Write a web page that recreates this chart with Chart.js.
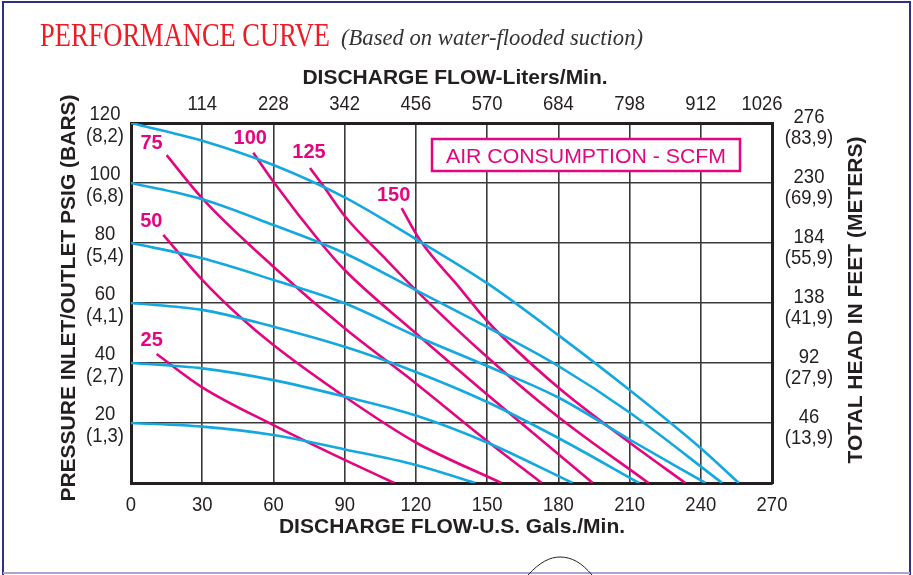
<!DOCTYPE html>
<html>
<head>
<meta charset="utf-8">
<script src="https://cdn.jsdelivr.net/npm/chart.js@4/dist/chart.umd.min.js"></script>
<style>
  body { margin: 0; background: #fff; }
  #wrap { width: 913px; height: 575px; }
</style>
</head>
<body>
<div id="wrap"><canvas id="grafico" width="913" height="575"></canvas></div>
<script>
// ejes
const flowGpmTicks = [0, 30, 60, 90, 120, 150, 180, 210, 240, 270];
const flowLpmTicks = ["", "114", "228", "342", "456", "570", "684", "798", "912", "1026"];
const psiTicks = [0, 20, 40, 60, 80, 100, 120];
const barTicks = ["", "(1,3)", "(2,7)", "(4,1)", "(5,4)", "(6,8)", "(8,2)"];
const feetTicks = ["", "46", "92", "138", "184", "230", "276"];
const meterTicks = ["", "(13,9)", "(27,9)", "(41,9)", "(55,9)", "(69,9)", "(83,9)"];

// curvas de presion (azul): caudal gpm -> psi
const p20Gpm = [0, 30, 60, 90, 120, 145];
const p20Psi = [20, 18.8, 16, 11.2, 6, 0];
const p40Gpm = [0, 30, 60, 90, 120, 150, 186];
const p40Psi = [40, 38.2, 34.3, 28.8, 22.5, 13.5, 0];
const p60Gpm = [0, 30, 60, 90, 120, 150, 180, 214];
const p60Psi = [60, 57.7, 52.1, 45.4, 37, 27, 15, 0];
const p80Gpm = [0, 30, 60, 90, 120, 150, 180, 210, 242];
const p80Psi = [80, 74.9, 67.7, 59.9, 49, 39, 28.5, 14.5, 0];
const p100Gpm = [0, 30, 60, 90, 120, 150, 180, 210, 249];
const p100Psi = [100, 94.6, 86, 76.6, 64.3, 52, 39, 23.5, 0];
const p120Gpm = [0, 30, 60, 90, 120, 150, 180, 210, 240, 256];
const p120Psi = [120, 114.1, 106, 95.2, 81.3, 66.6, 49.3, 31, 11.6, 0];

// consumo de aire (magenta): SCFM
const scfmNames = ["25", "50", "75", "100", "125", "150"];
const s25Gpm = [10.8, 30, 60, 90, 111];
const s25Psi = [43, 31.9, 19.3, 7.7, 0];
const s50Gpm = [13.6, 30, 45.9, 60, 90, 120, 156];
const s50Psi = [82.7, 67.7, 55.4, 46, 28.8, 13.5, 0];
const s75Gpm = [15, 30, 60, 90, 120, 150, 173];
const s75Psi = [109.3, 94.9, 72.1, 51.6, 33.2, 14, 0];
const s100Gpm = [51.5, 60, 80, 90, 120, 150, 194.5];
const s100Psi = [110.1, 100.4, 80, 71, 49.9, 29.5, 0];
const s125Gpm = [75.4, 80.3, 90, 107.7, 120, 150, 180, 218];
const s125Psi = [105, 99.8, 89, 74.3, 64.3, 42, 22, 0];
const s150Gpm = [114, 121.7, 138.6, 150, 180, 210, 233.5];
const s150Psi = [91.6, 81, 64.9, 54, 31.8, 13.5, 0];

const AZUL = "#13a8e0";
const MAGENTA = "#e5057f";
const NEGRO = "#231f20";

function puntos(xs, ys) {
  return xs.map((x, i) => ({ x: x, y: ys[i] }));
}

const curvasPresion = [[p20Gpm, p20Psi], [p40Gpm, p40Psi], [p60Gpm, p60Psi],
  [p80Gpm, p80Psi], [p100Gpm, p100Psi], [p120Gpm, p120Psi]];
const curvasAire = [[s25Gpm, s25Psi], [s50Gpm, s50Psi], [s75Gpm, s75Psi],
  [s100Gpm, s100Psi], [s125Gpm, s125Psi], [s150Gpm, s150Psi]];

const datasets = [];
curvasPresion.forEach((c, i) => datasets.push({
  label: "psi " + psiTicks[i + 1],
  data: puntos(c[0], c[1]),
  borderColor: AZUL, borderWidth: 2.6, pointRadius: 0,
  cubicInterpolationMode: "monotone", fill: false
}));
curvasAire.forEach((c, i) => datasets.push({
  label: scfmNames[i] + " SCFM",
  data: puntos(c[0], c[1]),
  borderColor: MAGENTA, borderWidth: 2.6, pointRadius: 0,
  cubicInterpolationMode: "monotone", fill: false
}));

// texto ajustado a un ancho
function textoAncho(ctx, txt, x, y, ancho, font, color, align) {
  ctx.save();
  ctx.font = font;
  ctx.fillStyle = color;
  ctx.textBaseline = "alphabetic";
  ctx.textAlign = align || "left";
  const w = ctx.measureText(txt).width;
  ctx.translate(x, y);
  ctx.scale(ancho / w, 1);
  ctx.fillText(txt, 0, 0);
  ctx.restore();
}

// numeros de los ejes, letra angosta
function textoTick(ctx, txt, cx, cy) {
  ctx.save();
  ctx.translate(cx, cy);
  ctx.scale(0.88, 1);
  ctx.fillText(txt, 0, 0);
  ctx.restore();
}

const decoracion = {
  id: "decoracion",
  afterDraw(chart) {
    const ctx = chart.ctx;
    const xs = chart.scales.x, ys = chart.scales.y;
    const area = chart.chartArea;

    // titulo
    textoAncho(ctx, "PERFORMANCE CURVE", 40, 46, 290, "33px 'Liberation Serif', serif", "#ed1c24");
    textoAncho(ctx, "(Based on water-flooded suction)", 341, 45, 302, "italic 24px 'Liberation Serif', serif", "#333");

    // etiquetas de los ejes
    ctx.save();
    ctx.fillStyle = NEGRO;
    ctx.font = "21px 'Liberation Sans', Arial, sans-serif";
    ctx.textAlign = "center";
    ctx.textBaseline = "middle";
    flowGpmTicks.forEach((v, i) => {
      const px = xs.getPixelForValue(v);
      textoTick(ctx, String(v), px, area.bottom + 22);
      if (flowLpmTicks[i]) {
        const corr = i === flowLpmTicks.length - 1 ? -10 : 0;
        textoTick(ctx, flowLpmTicks[i], px + corr, area.top - 19);
      }
    });
    psiTicks.forEach((v, i) => {
      if (!v) return;
      const py = ys.getPixelForValue(v);
      textoTick(ctx, String(v), area.left - 26, py - 9);
      textoTick(ctx, barTicks[i], area.left - 26, py + 13);
      textoTick(ctx, feetTicks[i], area.right + 37, py - 6);
      textoTick(ctx, meterTicks[i], area.right + 37, py + 15);
    });
    ctx.restore();

    // titulos de ejes
    ctx.save();
    ctx.fillStyle = NEGRO;
    ctx.font = "bold 21px 'Liberation Sans', Arial, sans-serif";
    ctx.textAlign = "center";
    ctx.textBaseline = "alphabetic";
    ctx.fillText("DISCHARGE FLOW-Liters/Min.", 455, 84);
    ctx.fillText("DISCHARGE FLOW-U.S. Gals./Min.", 452, 533);
    ctx.save();
    ctx.translate(75, 298);
    ctx.rotate(-Math.PI / 2);
    ctx.fillText("PRESSURE INLET/OUTLET PSIG (BARS)", 0, 0);
    ctx.restore();
    ctx.save();
    ctx.translate(862, 300);
    ctx.rotate(-Math.PI / 2);
    ctx.fillText("TOTAL HEAD IN FEET (METERS)", 0, 0);
    ctx.restore();
    ctx.restore();

    // etiquetas SCFM al inicio de cada curva
    const desp = [[-5, -14], [-12, -13], [-15, -12], [-3, -14], [-1, -16], [-8, -13]];
    ctx.save();
    ctx.fillStyle = MAGENTA;
    ctx.font = "bold 20px 'Liberation Sans', Arial, sans-serif";
    ctx.textAlign = "center";
    ctx.textBaseline = "middle";
    curvasAire.forEach((c, i) => {
      const px = xs.getPixelForValue(c[0][0]) + desp[i][0];
      const py = ys.getPixelForValue(c[1][0]) + desp[i][1];
      ctx.fillText(scfmNames[i], px, py);
    });
    ctx.restore();

    // recuadro leyenda
    ctx.save();
    ctx.strokeStyle = MAGENTA;
    ctx.lineWidth = 2.5;
    ctx.fillStyle = "#fff";
    ctx.fillRect(432, 139, 308, 32);
    ctx.strokeRect(432, 139, 308, 32);
    ctx.restore();
    textoAncho(ctx, "AIR CONSUMPTION - SCFM", 586, 163, 280, "21px 'Liberation Sans', Arial, sans-serif", MAGENTA, "center");

    // marco de la pagina
    ctx.save();
    ctx.strokeStyle = "#2e2f86";
    ctx.lineWidth = 2;
    ctx.beginPath();
    ctx.moveTo(3, 575);
    ctx.lineTo(3, 2);
    ctx.lineTo(910, 2);
    ctx.lineTo(910, 575);
    ctx.stroke();
    ctx.strokeStyle = "#a9a7d2";
    ctx.beginPath();
    ctx.moveTo(3, 573);
    ctx.lineTo(910, 573);
    ctx.stroke();
    ctx.strokeStyle = "#222";
    ctx.lineWidth = 1;
    ctx.beginPath();
    ctx.moveTo(528, 575);
    ctx.bezierCurveTo(540, 562, 550, 557, 560, 557);
    ctx.bezierCurveTo(572, 557, 582, 563, 592, 575);
    ctx.stroke();
    ctx.restore();
  }
};

const bordeEje = { display: true, width: 3, color: NEGRO };

new Chart(document.getElementById("grafico").getContext("2d"), {
  type: "line",
  data: { datasets: datasets },
  options: {
    responsive: false,
    animation: false,
    layout: { padding: 0 },
    plugins: { legend: { display: false }, tooltip: { enabled: false } },
    scales: {
      x: {
        type: "linear", position: "bottom", min: 0, max: 270,
        afterFit: s => { s.height = 92; },
        afterBuildTicks: s => { s.ticks = flowGpmTicks.map(v => ({ value: v })); },
        ticks: { display: false },
        grid: { color: "#3a3a3a", lineWidth: 1.6, drawTicks: false },
        border: bordeEje
      },
      x2: {
        type: "linear", position: "top", min: 0, max: 270,
        afterFit: s => { s.height = 123; },
        ticks: { display: false },
        grid: { display: false, drawTicks: false },
        border: bordeEje
      },
      y: {
        type: "linear", position: "left", min: 0, max: 120,
        afterFit: s => { s.width = 131; },
        afterBuildTicks: s => { s.ticks = psiTicks.map(v => ({ value: v })); },
        ticks: { display: false },
        grid: { color: "#3a3a3a", lineWidth: 1.6, drawTicks: false },
        border: bordeEje
      },
      y2: {
        type: "linear", position: "right", min: 0, max: 120,
        afterFit: s => { s.width = 141; },
        ticks: { display: false },
        grid: { display: false, drawTicks: false },
        border: bordeEje
      }
    }
  },
  plugins: [decoracion]
});
</script>
</body>
</html>
